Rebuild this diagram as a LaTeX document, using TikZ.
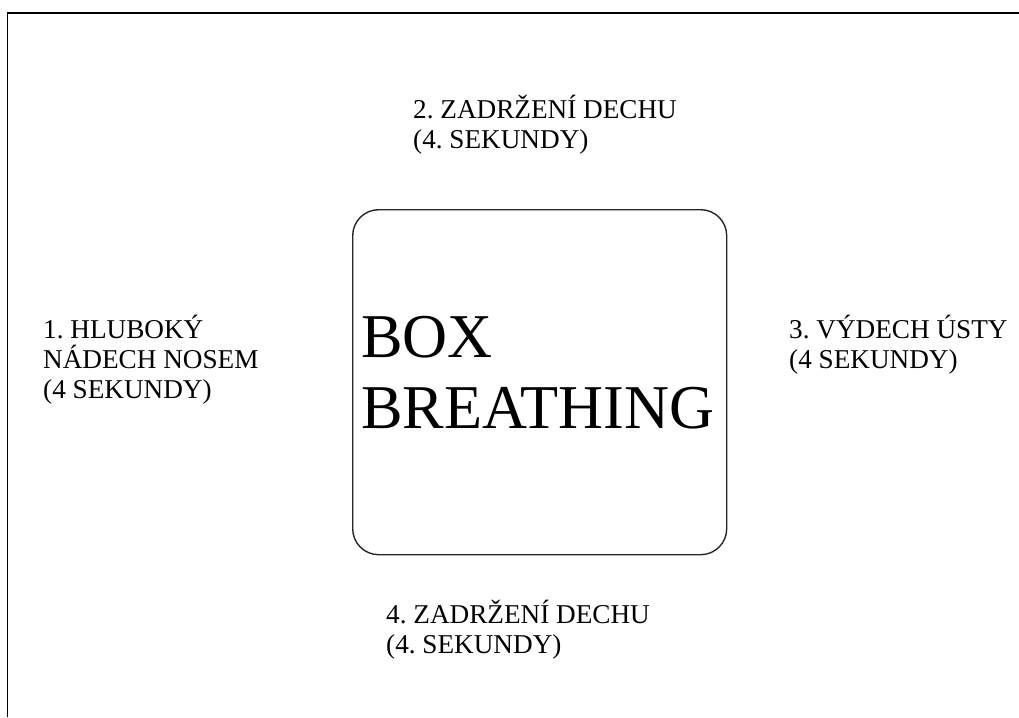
\documentclass[tikz,border=0pt]{standalone}
\usepackage{fontspec}
\setmainfont{Liberation Serif}
\frenchspacing
\begin{document}
\begin{tikzpicture}[x=1pt,y=-1pt,
  lbl/.style={inner sep=0pt, anchor=base west, align=left,
    font=\fontsize{27.2}{30}\selectfont\frenchspacing},
  big/.style={inner sep=0pt, anchor=base west, align=left,
    font=\fontsize{62.3}{71}\selectfont},
  frame/.style={draw=black, line width=1.4pt},
  boxframe/.style={draw=black!85, line width=1.4pt, rounded corners=26pt}]
\useasboundingbox (0,0) rectangle (1019,717);
\coordinate (tl) at (7.5,13);
\coordinate (tr) at (1019,13);
\coordinate (bl) at (7.5,717);
\draw[frame] (tr) -- (tl) -- (bl);
\node[boxframe, minimum width=374pt, minimum height=345pt, anchor=north west, inner sep=0pt] (box) at (352,209) {};
\node[big] (title) at (361,428) {BOX\\BREATHING};
\node[lbl] (s1) at (43,398) {1. HLUBOKÝ\\NÁDECH NOSEM\\(4 SEKUNDY)};
\node[lbl] (s2) at (413,148) {2. ZADRŽENÍ DECHU\\(4. SEKUNDY)};
\node[lbl] (s3) at (789,368) {3. VÝDECH ÚSTY\\(4 SEKUNDY)};
\node[lbl] (s4) at (386,653) {4. ZADRŽENÍ DECHU\\(4. SEKUNDY)};
\end{tikzpicture}
\end{document}
